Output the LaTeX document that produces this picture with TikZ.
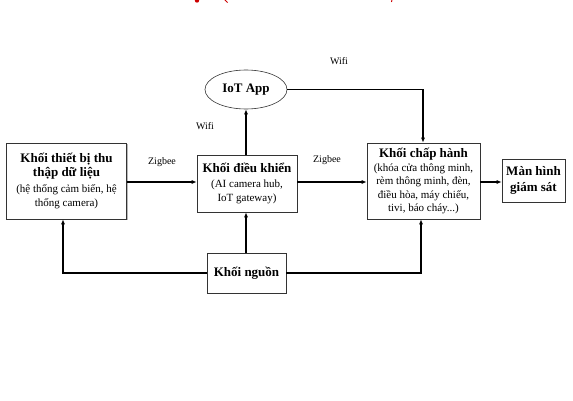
\documentclass[tikz,border=0pt]{standalone}
\usepackage{fontspec}
\setmainfont{Liberation Serif}
\usetikzlibrary{arrows.meta,shapes.geometric,shadows}
\newcommand{\tb}{\bfseries\fontsize{13}{15}\selectfont}
\newcommand{\ts}{\mdseries\fontsize{11}{14}\selectfont}
\begin{document}
\begin{tikzpicture}[x=1pt,y=-1pt,
  blk/.style={draw=black!80,fill=white,line width=0.6pt,align=center,inner sep=0pt,
    drop shadow={shadow xshift=1pt,shadow yshift=-1pt,fill=black!35,opacity=0.8}},
  txt/.style={align=center,inner sep=0pt,font=\fontsize{11}{14.5}\selectfont},
  lbl/.style={font=\fontsize{10}{11}\selectfont},
  conn/.style={line width=1.1pt,-{Latex[length=5pt,width=4pt]}},
  line/.style={line width=1.1pt}]
\useasboundingbox (0,0) rectangle (573,401);
% red fragments of clipped title
\fill[red!80!black] (197,0.5) circle (2.2);
\draw[red!80!black,line width=0.9pt] (224.5,-0.5) -- (227.5,2.5);
\draw[red!80!black,line width=0.9pt] (392,-0.5) -- (391.5,2);

\node[blk,minimum width=120,minimum height=76] (sens) at (66.5,181) {};
\node[txt] (senst) at (sens.center) {\tb Khối thiết bị thu\\\tb thập dữ liệu\\[1pt]\ts (hệ thống cảm biến, hệ\\\ts thống camera)};

\node[blk,minimum width=100,minimum height=57] (ctrl) at (247,183.5) {};
\node[txt] (ctrlt) at (ctrl.center) {\tb Khối điều khiển\\\ts (AI camera hub,\\\ts IoT gateway)};

\node[blk,minimum width=113,minimum height=76] (act) at (423.5,181) {};
\node[txt,font=\fontsize{11}{13.5}\selectfont] (actt) at (act.center) {\tb Khối chấp hành\\\ts (khóa cửa thông minh,\\\ts rèm thông minh, đèn,\\\ts điều hòa, máy chiếu,\\\ts tivi, báo cháy...)};

\node[blk,minimum width=63,minimum height=43] (scr) at (533.5,180.5) {};
\node[txt,font=\fontsize{11}{16}\selectfont] (scrt) at (scr.center) {\tb Màn hình\\\tb giám sát};

\node[draw=black!80,line width=0.6pt,ellipse,minimum width=82,minimum height=39,inner sep=0pt,font=\tb] (app) at (246,89.5) {IoT App};

\node[blk,minimum width=79,minimum height=40] (pwr) at (246.5,273) {};
\node[txt,font=\tb] (pwrt) at (pwr.center) {Khối nguồn};

\draw[conn] (sens.east |- 0,182) -- (ctrl.west |- 0,182);
\draw[conn] (ctrl.east |- 0,182) -- (act.west |- 0,182);
\draw[conn] (act.east |- 0,182) -- (scr.west |- 0,182);
\draw[conn] (ctrl.north -| 246,0) -- (app.south);
\coordinate (c1) at (423,89.5);
\draw[conn] (app.east) -- (c1) -- (act.north -| c1);
\draw[conn] (pwr.north -| 246,0) -- (ctrl.south -| 246,0);
\coordinate (c2) at (63,273);
\draw[conn] (pwr.west) -- (c2) -- (sens.south -| c2);
\coordinate (c3) at (421,273);
\draw[conn] (pwr.east) -- (c3) -- (act.south -| c3);

\node[lbl] (z1) at (162,162) {Zigbee};
\node[lbl] (z2) at (327,160) {Zigbee};
\node[lbl] (w1) at (339,61) {Wifi};
\node[lbl] (w2) at (205,126) {Wifi};
\end{tikzpicture}
\end{document}
